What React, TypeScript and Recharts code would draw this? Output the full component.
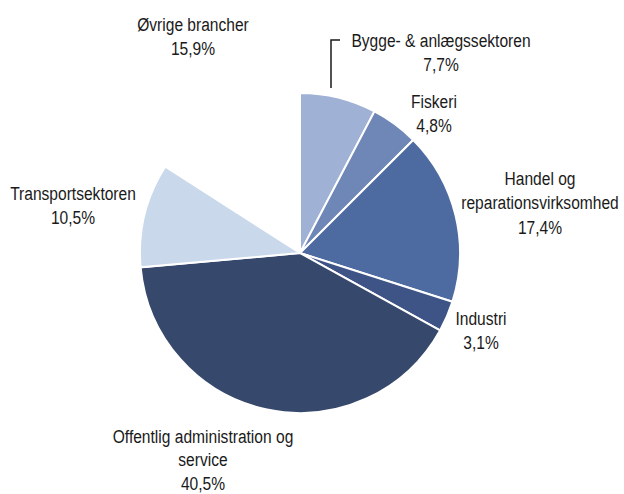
import React from 'react';
import { PieChart, Pie, Cell } from 'recharts';

// sectors, clockwise from 12 o'clock
const sectors = [
  'Bygge- & anlægssektoren',
  'Fiskeri',
  'Handel og reparationsvirksomhed',
  'Industri',
  'Offentlig administration og service',
  'Transportsektoren',
  'Øvrige brancher',
];
const shares = [7.7, 4.8, 17.4, 3.1, 40.5, 10.5, 15.9];
const percentLabels = ['7,7%', '4,8%', '17,4%', '3,1%', '40,5%', '10,5%', '15,9%'];
const labelLines = [
  ['Bygge- & anlægssektoren'],
  ['Fiskeri'],
  ['Handel og', 'reparationsvirksomhed'],
  ['Industri'],
  ['Offentlig administration og', 'service'],
  ['Transportsektoren'],
  ['Øvrige brancher'],
];

const colors = ['#9fb1d4', '#6e87b7', '#4e6ba1', '#3f5486', '#36486b', '#c9d8eb', '#ffffff'];

// where each label block sits, relative to pie centre (x centre, y of first line)
const labelPos = [
  { dx: 141, dy: -213 },
  { dx: 134, dy: -152 },
  { dx: 240, dy: -75 },
  { dx: 181, dy: 65 },
  { dx: -97, dy: 183 },
  { dx: -227, dy: -60 },
  { dx: -107, dy: -229 },
];

const data = sectors.map((name, i) => ({ name, value: shares[i] }));

const FONT = '"Liberation Sans", Arial, sans-serif';

const renderLabel = (props: any) => {
  const { cx, cy, index } = props;
  const pos = labelPos[index];
  const lines = [...labelLines[index], percentLabels[index]];
  const x = cx + pos.dx;
  const y0 = cy + pos.dy;
  // bottom label is squeezed a bit so it stays inside the frame
  const step = index === 4 ? 23.5 : 24.5;
  return (
    <g key={`lbl-${index}`}>
      {index === 0 && (
        <polyline
          points={`${cx + 31},${cy - 165} ${cx + 31},${cy - 213} ${cx + 40},${cy - 213}`}
          fill="none"
          stroke="#1a1a1a"
          strokeWidth={1.5}
        />
      )}
      {/* narrow the face to mimic the condensed font of the original */}
      <text
        transform={`translate(${x},${y0}) scale(0.82,1)`}
        textAnchor="middle"
        fill="#1a1a1a"
        fontSize={19}
        fontFamily={FONT}
      >
        {lines.map((l, j) => (
          <tspan key={j} x={0} y={j * step} dominantBaseline="central">
            {l}
          </tspan>
        ))}
      </text>
    </g>
  );
};

export default function App() {
  return (
    <div style={{ position: 'absolute', left: 0, top: 0, background: '#fff' }}>
      <PieChart width={624} height={494} margin={{ top: 0, right: 0, bottom: 0, left: 0 }}>
        <Pie
          data={data}
          dataKey="value"
          nameKey="name"
          cx={300}
          cy={253}
          outerRadius={160}
          startAngle={90}
          endAngle={-270}
          stroke="#ffffff"
          strokeWidth={2}
          label={renderLabel}
          labelLine={false}
          isAnimationActive={false}
        >
          {data.map((d, i) => (
            <Cell key={d.name} fill={colors[i]} stroke={i === 6 ? 'none' : '#ffffff'} />
          ))}
        </Pie>
      </PieChart>
    </div>
  );
}
